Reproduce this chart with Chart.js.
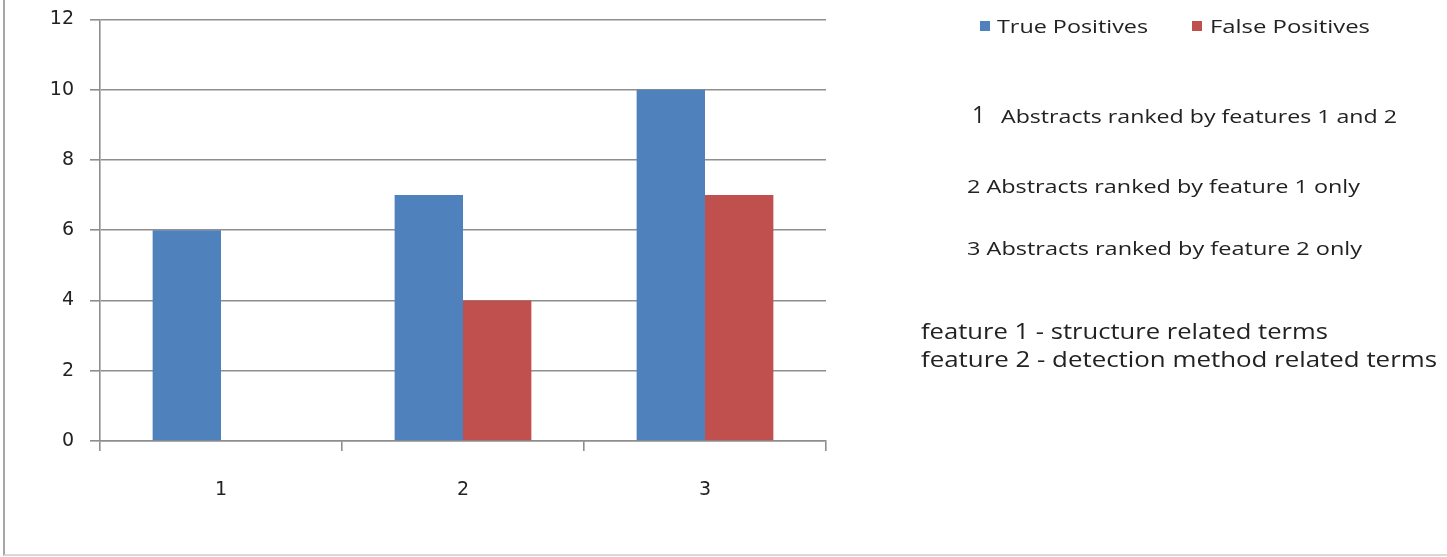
<!DOCTYPE html>
<html>
<head>
<meta charset="utf-8">
<script src="https://cdn.jsdelivr.net/npm/chart.js@4.4.1/dist/chart.umd.min.js"></script>
<style>
  html, body { margin: 0; padding: 0; background: #fff; }
  body { width: 1447px; height: 557px; position: relative; overflow: hidden; font-family: "Open Sans", sans-serif; color: #222; }
  #c { position: absolute; left: 0; top: -8px; }
  #frame { position: absolute; left: 3px; top: 0; width: 1444px; height: 554px; border-left: 2px solid #a6a6a6; border-bottom: 2px solid #d9d9d9; box-sizing: content-box; pointer-events: none; }
  .t { position: absolute; white-space: nowrap; line-height: 1; transform-origin: 0 50%; }
  .sw { position: absolute; width: 10px; height: 10px; }
</style>
</head>
<body>
<canvas id="c" width="1447" height="565"></canvas>
<div id="frame"></div>
<div id="legend"></div>
<div id="notes"></div>
<script>
// ---- data ----
const categories = ['1', '2', '3'];
const truePositives = [6, 7, 10];
const falsePositives = [0, 4, 7];
const seriesNames = ['True Positives', 'False Positives'];
const seriesColors = ['#4F81BD', '#C0504D'];
const yMin = 0, yMax = 12, yStep = 2;
const noteLines = [
  'Abstracts ranked by features 1 and  2',
  '2 Abstracts ranked by feature 1 only',
  '3 Abstracts ranked by feature 2 only'
];
const featureLines = [
  'feature 1 - structure related terms',
  'feature 2 - detection method related terms'
];

// ---- chart ----
const gridColor = '#8e8e8e';
const tickFont = { family: 'DejaVu Sans', size: 19 };
new Chart(document.getElementById('c'), {
  type: 'bar',
  data: {
    labels: categories,
    datasets: [
      { label: seriesNames[0], data: truePositives, backgroundColor: seriesColors[0] },
      { label: seriesNames[1], data: falsePositives, backgroundColor: seriesColors[1] }
    ]
  },
  options: {
    responsive: false,
    animation: false,
    datasets: { bar: { categoryPercentage: 0.565, barPercentage: 1.0 } },
    layout: { autoPadding: false, padding: { top: 19, right: 621, bottom: 0, left: 0 } },
    plugins: { legend: { display: false }, tooltip: { enabled: false } },
    scales: {
      x: {
        type: 'category',
        offset: true,
        grid: { display: true, drawOnChartArea: false, drawTicks: true, tickLength: 10, offset: true, color: gridColor, lineWidth: 1.6 },
        border: { display: true, color: gridColor, width: 1.6 },
        ticks: { font: tickFont, color: '#222', padding: 28 },
        afterFit: s => { s.height = 116; }
      },
      y: {
        min: yMin, max: yMax,
        grid: { color: gridColor, tickLength: 10, lineWidth: 1.6 },
        border: { display: true, color: gridColor, width: 1.6 },
        ticks: { stepSize: yStep, font: tickFont, color: '#222', padding: 16 },
        afterFit: s => { s.width = 100; }
      }
    }
  }
});

// text placed at [left, right, centerY, fontSize]; stretched horizontally to its span
function placeText(parent, txt, left, right, cy, size) {
  const d = document.createElement('div');
  d.className = 't';
  d.style.fontSize = size + 'px';
  d.textContent = txt;
  parent.appendChild(d);
  const w = d.getBoundingClientRect().width;
  const h = d.getBoundingClientRect().height;
  d.style.left = left + 'px';
  d.style.top = (cy - h / 2) + 'px';
  if (right !== null) d.style.transform = 'scaleX(' + ((right - left) / w).toFixed(4) + ')';
  return d;
}

// ---- legend (from series arrays) ----
const legendEl = document.getElementById('legend');
const legendSwatchX = [980, 1192];
const legendTextSpan = [[997, 1148], [1210, 1370]];
seriesNames.forEach((name, i) => {
  const s = document.createElement('div');
  s.className = 'sw';
  s.style.left = legendSwatchX[i] + 'px';
  s.style.top = '21px';
  s.style.background = seriesColors[i];
  legendEl.appendChild(s);
  placeText(legendEl, name, legendTextSpan[i][0], legendTextSpan[i][1], 26, 19);
});

// ---- notes ----
const notesEl = document.getElementById('notes');
placeText(notesEl, '1', 972, null, 114, 23);
placeText(notesEl, noteLines[0], 1001, 1397, 116, 18);
placeText(notesEl, noteLines[1], 967, 1360, 186, 18);
placeText(notesEl, noteLines[2], 967, 1362, 248, 18);
placeText(notesEl, featureLines[0], 921, 1328, 330, 22);
placeText(notesEl, featureLines[1], 921, 1437, 358, 22);
</script>
</body>
</html>
